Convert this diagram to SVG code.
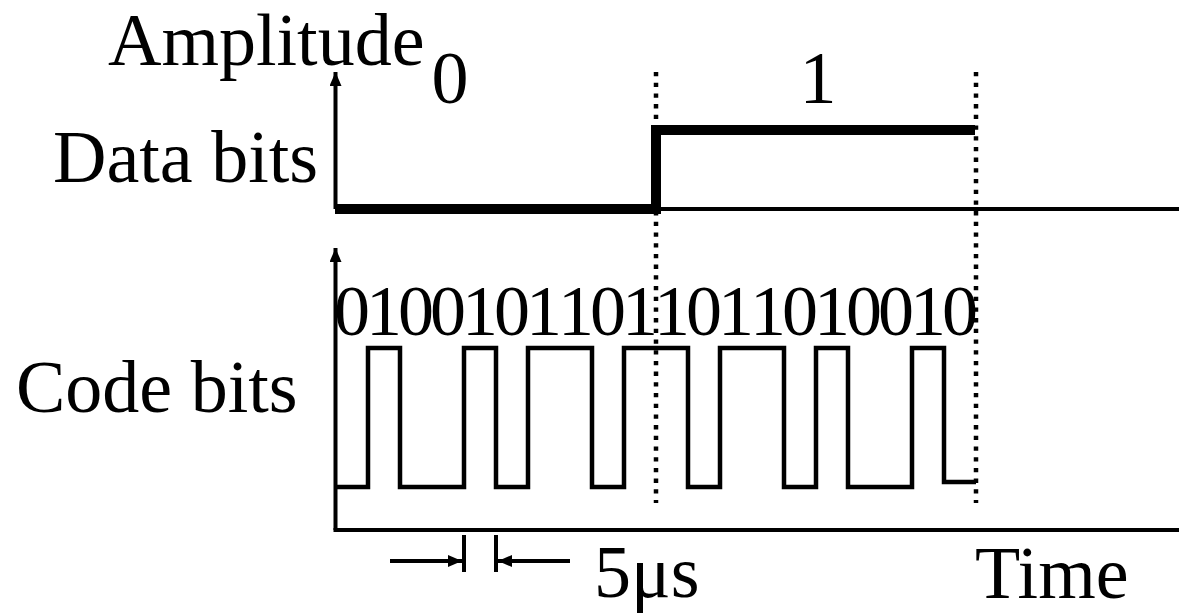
<svg xmlns="http://www.w3.org/2000/svg" width="1179" height="613" viewBox="0 0 1179 613">
<style>
text{font-family:"Liberation Serif","Times New Roman",serif;font-size:74px;fill:#000}
.ax{stroke:#000;stroke-width:4;fill:none}
.thick{stroke:#000;stroke-width:10;fill:none;stroke-linejoin:miter}
.wave{stroke:#000;stroke-width:4.5;fill:none;stroke-linejoin:miter}
.dot{stroke:#000;stroke-width:4.5;stroke-dasharray:4.3 6.4;fill:none}
</style>
<defs>
<marker id="ah" viewBox="0 0 14 12" refX="14" refY="6" markerWidth="14" markerHeight="12" markerUnits="userSpaceOnUse" orient="auto">
<path d="M0,0 L14,6 L0,12 Z" fill="#000"/>
</marker>
</defs>
<g id="labels">
<text x="108" y="65">Amplitude</text>
<text x="53" y="182">Data bits</text>
<text x="16" y="412">Code bits</text>
<text x="450" y="103" text-anchor="middle">0</text>
<text x="818" y="103" text-anchor="middle">1</text>
<text x="594" y="597">5μs</text>
<text x="975" y="598">Time</text>
</g>
<g id="data-axis">
<line class="ax" x1="335.5" y1="209" x2="335.5" y2="72" marker-end="url(#ah)"/>
<line class="ax" x1="335.5" y1="209" x2="1179" y2="209"/>
</g>
<g id="code-axis">
<line class="ax" x1="335.5" y1="530" x2="335.5" y2="248" marker-end="url(#ah)"/>
<line class="ax" x1="333.5" y1="530" x2="1179" y2="530"/>
</g>
<g id="data-signal">
<path class="thick" d="M335,209 H656 V130 H975"/>
</g>
<g id="code-signal">
<path class="wave" d="M335,487 H368 V348 H400 V487 H464 V348 H496 V487 H528 V348 H592 V487 H624 V348 H688 V487 H720 V348 H784 V487 H816 V348 H848 V487 H912 V348 H944 V482 H976"/>
</g>
<g id="code-digits">
<text y="335" text-anchor="middle" style="font-size:72px" x="352 384 416 448 480 512 544 576 608 640 672 704 736 768 800 832 864 896 928 960">01001011011011010010</text>
</g>
<g id="connectors">
<line class="dot" x1="656" y1="72" x2="656" y2="503"/>
<line class="dot" x1="976" y1="72" x2="976" y2="503"/>
<line class="ax" x1="464" y1="535" x2="464" y2="572"/>
<line class="ax" x1="496" y1="535" x2="496" y2="572"/>
<line class="ax" x1="390" y1="561" x2="462" y2="561" marker-end="url(#ah)"/>
<line class="ax" x1="570" y1="561" x2="498" y2="561" marker-end="url(#ah)"/>
</g>
</svg>
